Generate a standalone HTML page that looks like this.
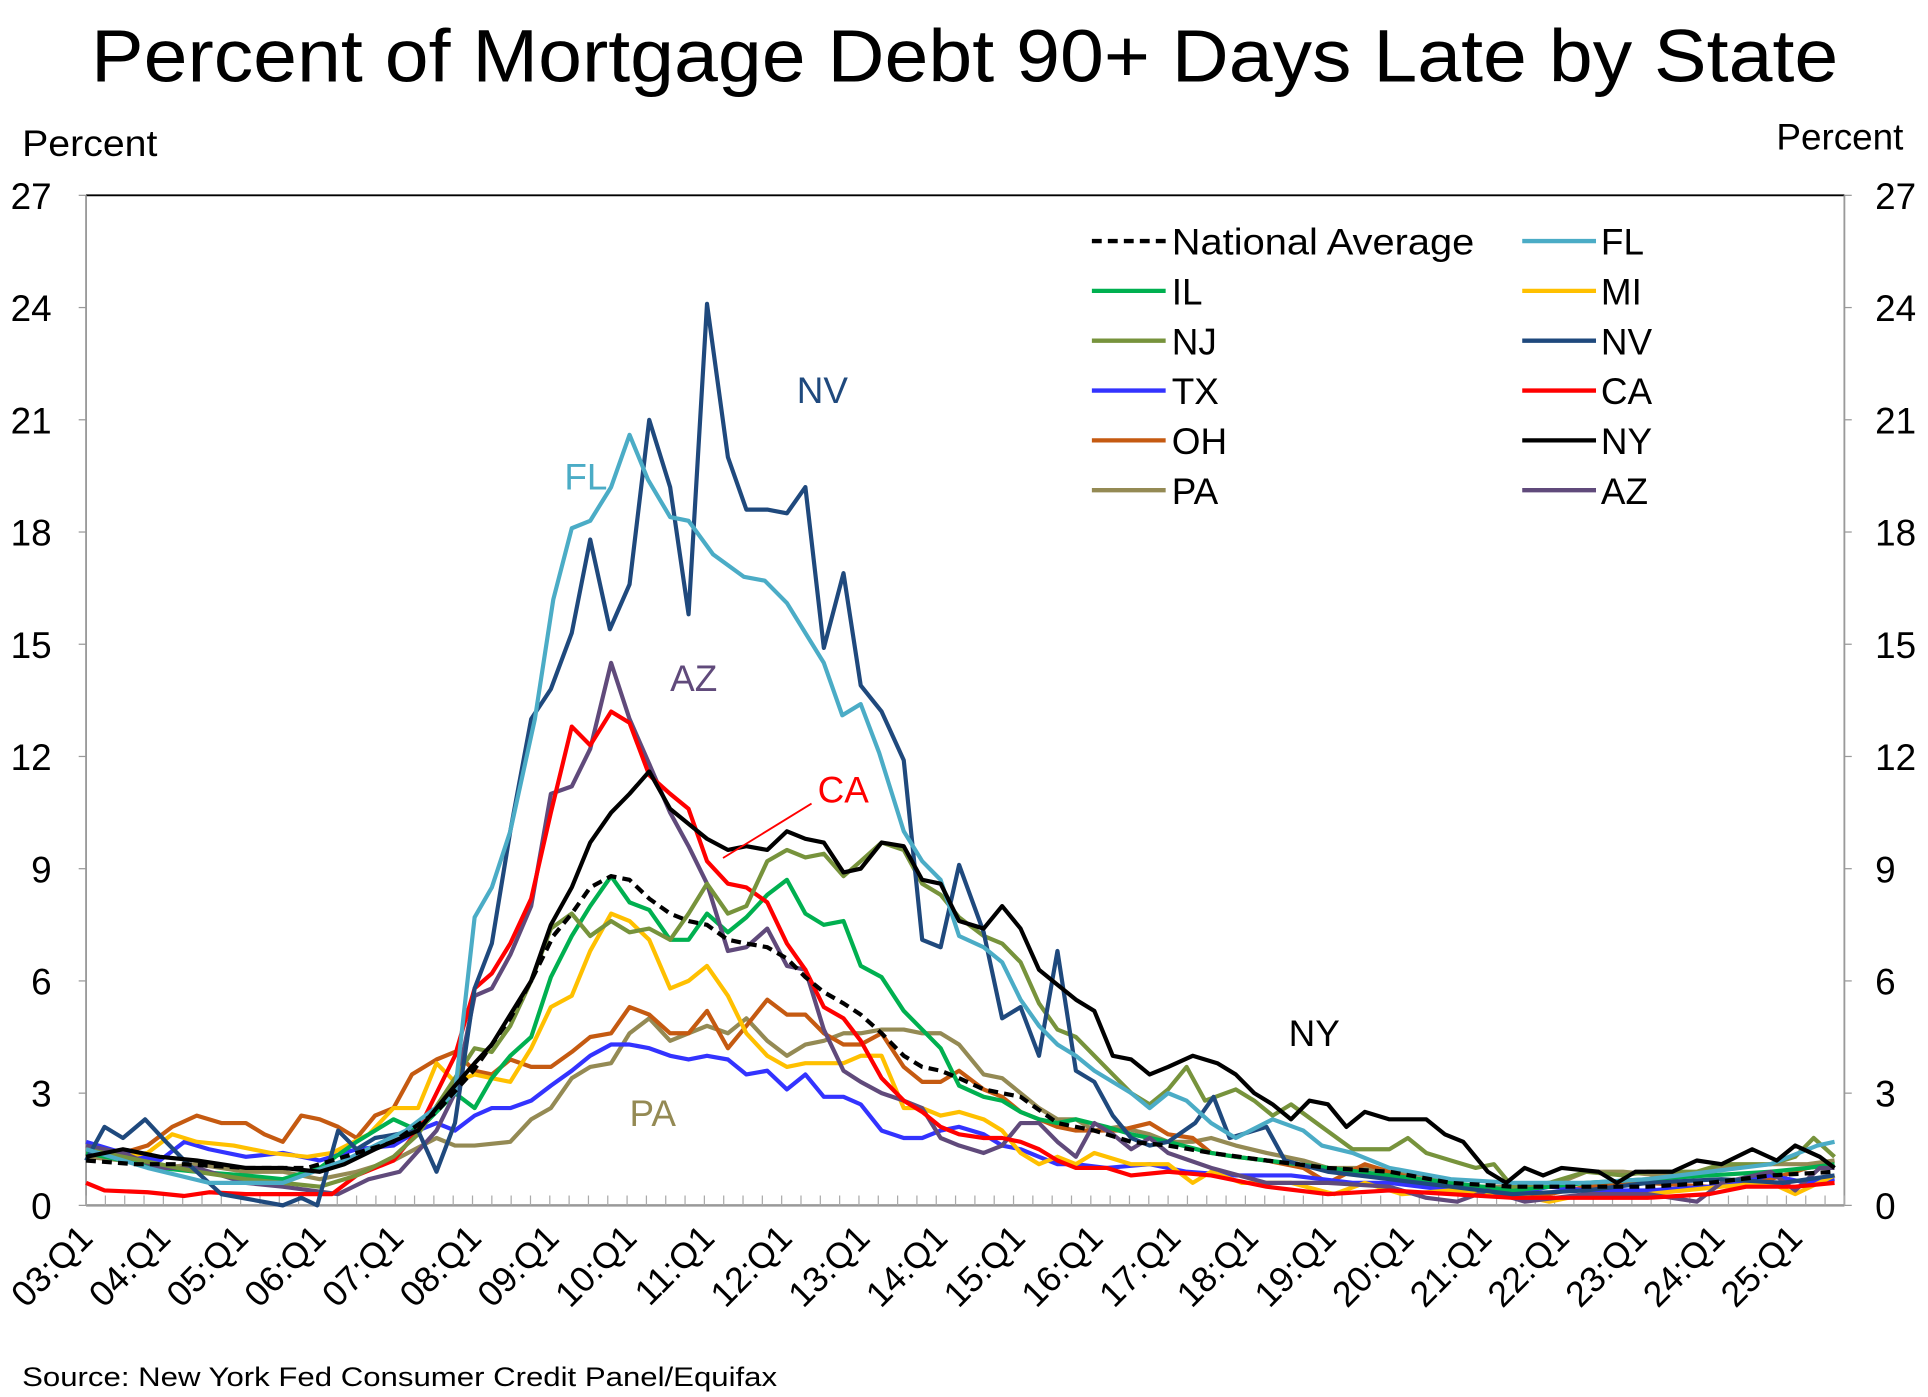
<!DOCTYPE html>
<html><head><meta charset="utf-8"><style>
html,body{margin:0;padding:0;background:#fff;}
svg{display:block;}
text{font-family:"Liberation Sans",Arial,sans-serif;}
</style></head><body>
<svg id="c" width="1928" height="1397" viewBox="0 0 1568 1130" preserveAspectRatio="none" xmlns="http://www.w3.org/2000/svg">
<text x="74" y="66" font-size="60" textLength="1421" lengthAdjust="spacingAndGlyphs">Percent of Mortgage Debt 90+ Days Late by State</text>
<text x="18" y="126" font-size="30" textLength="110" lengthAdjust="spacingAndGlyphs">Percent</text>
<text x="1548" y="121" font-size="30" text-anchor="end">Percent</text>
<g id="axes"></g>
<g id="series" fill="none" stroke-width="3.4" stroke-linejoin="round"></g>
<g id="legend"></g>
<text x="648" y="326" font-size="30" fill="#1f497d">NV</text>
<text x="459" y="396" font-size="30" fill="#4bacc6">FL</text>
<text x="545" y="559" font-size="30" fill="#604a7b">AZ</text>
<text x="665" y="649" font-size="30" fill="#ff0000">CA</text>
<line x1="660" y1="650" x2="588" y2="694" stroke="#ff0000" stroke-width="1.5"/>
<text x="1048" y="846" font-size="30" fill="#000">NY</text>
<text x="512" y="911" font-size="30" fill="#948a54">PA</text>
<text x="18" y="1121" font-size="22" textLength="614" lengthAdjust="spacingAndGlyphs">Source: New York Fed Consumer Credit Panel/Equifax</text>
</svg>
<script>
const NS="http://www.w3.org/2000/svg";
function el(p,t,a,txt){const e=document.createElementNS(NS,t);for(const k in a)e.setAttribute(k,a[k]);if(txt!==undefined)e.textContent=txt;p.appendChild(e);return e;}
const L=70,R=1500,T=158,B=975,U=(B-T)/27;
const Y=v=>B-v*U;
const ax=document.getElementById('axes');
el(ax,'line',{x1:L,y1:T,x2:R,y2:T,stroke:'#000','stroke-width':1.5});
el(ax,'line',{x1:L,y1:T,x2:L,y2:B,stroke:'#999','stroke-width':1.5});
el(ax,'line',{x1:R,y1:T,x2:R,y2:B,stroke:'#999','stroke-width':1.5});
el(ax,'line',{x1:L,y1:B,x2:R,y2:B,stroke:'#999','stroke-width':2});
for(let v=0;v<=27;v+=3){
 el(ax,'text',{x:42,y:Y(v)+11,'font-size':30,'text-anchor':'end'},v);
 el(ax,'text',{x:1525,y:Y(v)+11,'font-size':30,'text-anchor':'start'},v);
 el(ax,'line',{x1:L,y1:Y(v),x2:L-6,y2:Y(v),stroke:'#999'});
 el(ax,'line',{x1:R,y1:Y(v),x2:R+6,y2:Y(v),stroke:'#999'});
}
const qw=(R-L)/91;
for(let i=0;i<=91;i++){el(ax,'line',{x1:L+i*qw,y1:B,x2:L+i*qw,y2:B-8,stroke:'#aaa','stroke-width':1});}
for(let k=0;k<23;k++){
 const yr=(3+k).toString().padStart(2,'0')+':Q1';
 const x=77+63.2*k,y=1003;
 el(ax,'text',{x:x,y:y,'font-size':29,'text-anchor':'end',transform:`rotate(-45 ${x} ${y})`},yr);
}
const S={
NY:['#000',[70,1.3,100,1.5,130,1.3,160,1.2,200,1.0,230,1.0,260,0.9,280,1.1,305,1.5,340,2.0,370,3.2,386,3.8,400,4.3,415,5.1,432,6,448,7.5,465,8.5,480,9.7,497,10.5,512,11,528,11.6,545,10.6,560,10.2,575,9.8,592,9.5,607,9.6,624,9.5,640,10,655,9.8,670,9.7,686,8.9,700,9.0,717,9.7,735,9.6,750,8.7,765,8.6,780,7.6,800,7.4,815,8.0,830,7.4,845,6.3,860,5.9,875,5.5,890,5.2,905,4.0,920,3.9,935,3.5,950,3.7,970,4.0,990,3.8,1005,3.5,1020,3.0,1035,2.7,1050,2.3,1065,2.8,1080,2.7,1095,2.1,1110,2.5,1130,2.3,1160,2.3,1175,1.9,1190,1.7,1210,0.9,1225,0.6,1240,1.0,1255,0.8,1270,1.0,1300,0.9,1315,0.6,1330,0.9,1360,0.9,1380,1.2,1400,1.1,1425,1.5,1445,1.2,1460,1.6,1480,1.3,1492,1.0]],
FL:['#4bacc6',[70,1.5,120,1.0,170,0.6,230,0.6,280,1.2,330,2.0,370,3.0,386,7.7,400,8.5,415,10,435,13,450,16.2,465,18.1,480,18.3,497,19.2,512,20.6,527,19.4,545,18.4,560,18.3,580,17.4,605,16.8,622,16.7,640,16.1,670,14.5,685,13.1,700,13.4,715,12.1,735,10,750,9.2,765,8.7,780,7.2,800,6.9,815,6.5,830,5.5,845,4.8,860,4.3,875,4.0,890,3.6,920,3.0,935,2.6,950,3.0,965,2.8,985,2.2,1005,1.8,1035,2.3,1060,2.0,1075,1.6,1100,1.4,1130,1.0,1180,0.7,1230,0.6,1290,0.6,1340,0.7,1390,0.9,1440,1.1,1478,1.6,1492,1.7]],
NV:['#1f497d',[70,1.2,85,2.1,100,1.8,118,2.3,135,1.7,150,1.2,180,0.3,230,0.0,245,0.2,258,0.0,275,2.0,290,1.5,305,1.8,340,2.0,355,0.9,370,2.2,386,5.8,400,7,415,10,432,13,448,13.8,465,15.3,480,17.8,496,15.4,512,16.6,528,21,545,19.2,560,15.8,575,24.1,592,20,607,18.6,624,18.6,640,18.5,655,19.2,670,14.9,686,16.9,700,13.9,717,13.2,735,11.9,750,7.1,765,6.9,780,9.1,800,7.3,815,5.0,830,5.3,845,4.0,860,6.8,875,3.6,890,3.3,905,2.4,920,1.8,935,1.6,950,1.7,972,2.2,987,2.9,1000,1.8,1030,2.1,1045,1.2,1080,0.9,1130,0.7,1180,0.5,1230,0.3,1290,0.4,1340,0.6,1400,0.7,1450,0.6,1492,0.8]],
NJ:['#77933c',[70,1.5,100,1.3,130,1.1,160,0.9,200,0.7,230,0.6,260,0.5,290,0.8,320,1.3,340,1.9,370,3.4,386,4.2,400,4.1,415,4.8,432,6,448,7.4,465,7.8,480,7.2,497,7.6,512,7.3,528,7.4,545,7.1,560,7.8,575,8.6,592,7.8,607,8.0,624,9.2,640,9.5,655,9.3,670,9.4,686,8.8,700,9.2,717,9.7,735,9.5,750,8.6,765,8.3,780,7.7,800,7.2,815,7.0,830,6.5,845,5.4,860,4.7,875,4.5,890,4.0,905,3.5,920,3.0,935,2.7,950,3.1,965,3.7,980,2.8,1005,3.1,1020,2.8,1035,2.4,1050,2.7,1075,2.1,1100,1.5,1130,1.5,1145,1.8,1160,1.4,1180,1.2,1200,1.0,1215,1.1,1230,0.5,1260,0.6,1290,0.9,1320,0.8,1340,0.9,1380,0.9,1400,1.1,1440,1.1,1460,1.3,1475,1.8,1492,1.3]],
CA:['#ff0000',[70,0.6,85,0.4,120,0.35,150,0.25,170,0.35,200,0.3,230,0.3,270,0.3,290,0.8,320,1.2,340,2.0,355,3.0,370,4.0,386,5.8,400,6.2,415,7.0,432,8.2,448,10.5,465,12.8,480,12.3,497,13.2,512,12.9,528,11.5,545,11.0,560,10.6,575,9.2,592,8.6,607,8.5,624,8.1,640,7.0,655,6.3,670,5.3,686,5.0,700,4.4,717,3.4,735,2.8,750,2.5,765,2.1,780,1.9,800,1.8,815,1.8,830,1.7,845,1.5,860,1.2,875,1.0,900,1.0,920,0.8,950,0.9,985,0.8,1030,0.5,1080,0.3,1130,0.4,1180,0.3,1230,0.2,1290,0.2,1340,0.2,1390,0.3,1420,0.5,1460,0.5,1492,0.6]],
AZ:['#604a7b',[70,1.6,100,1.4,130,1.0,160,1.0,200,0.6,230,0.5,275,0.3,300,0.7,325,0.9,355,2.0,370,3.0,386,5.6,400,5.8,415,6.7,432,8,448,11,465,11.2,480,12.2,497,14.5,512,13,528,11.8,545,10.5,560,9.6,575,8.6,592,6.8,607,6.9,624,7.4,640,6.4,655,6.3,670,4.7,686,3.6,700,3.3,717,3.0,735,2.8,750,2.6,765,1.8,780,1.6,800,1.4,815,1.6,830,2.2,845,2.2,860,1.7,875,1.3,890,2.2,905,1.9,920,1.5,935,1.8,950,1.4,985,1.0,1030,0.6,1080,0.6,1130,0.5,1160,0.2,1185,0.1,1210,0.4,1240,0.1,1290,0.3,1340,0.3,1380,0.1,1400,0.6,1440,0.9,1460,0.4,1480,1.0,1492,1.0]],
IL:['#00b050',[70,1.4,100,1.2,130,1.0,160,0.9,200,0.8,230,0.7,260,1.0,290,1.7,320,2.3,340,2.0,370,3.0,386,2.6,400,3.4,415,4.0,432,4.5,448,6.1,465,7.2,480,8,497,8.8,512,8.1,528,7.9,545,7.1,560,7.1,575,7.8,592,7.3,607,7.7,624,8.3,640,8.7,655,7.8,670,7.5,686,7.6,700,6.4,717,6.1,735,5.2,750,4.7,765,4.2,780,3.2,800,2.9,815,2.8,830,2.5,845,2.3,860,2.2,875,2.3,900,2.1,920,1.9,950,1.7,985,1.4,1005,1.3,1030,1.2,1080,1.0,1130,0.8,1180,0.6,1230,0.4,1290,0.6,1340,0.7,1390,0.8,1440,0.9,1470,1.0,1492,1.1]],
MI:['#ffc000',[70,1.5,100,1.3,120,1.4,140,1.9,160,1.7,190,1.6,220,1.4,250,1.3,270,1.4,300,1.9,320,2.6,340,2.6,355,3.8,370,3.3,386,3.5,400,3.4,415,3.3,432,4.2,448,5.3,465,5.6,480,6.8,497,7.8,512,7.6,528,7.1,545,5.8,560,6.0,575,6.4,592,5.6,607,4.6,624,4.0,640,3.7,655,3.8,670,3.8,686,3.8,700,4.0,717,4.0,735,2.6,750,2.6,765,2.4,780,2.5,800,2.3,815,2.0,830,1.4,845,1.1,860,1.3,875,1.1,890,1.4,920,1.1,950,1.1,970,0.6,985,0.9,1010,0.6,1050,0.6,1085,0.3,1110,0.6,1140,0.3,1180,0.4,1230,0.3,1260,0.1,1290,0.3,1340,0.3,1400,0.5,1440,0.6,1460,0.3,1492,0.8]],
TX:['#3333ff',[70,1.7,100,1.4,130,1.2,150,1.7,170,1.5,200,1.3,230,1.4,260,1.2,290,1.5,320,1.6,340,2.0,355,2.2,370,2.0,386,2.4,400,2.6,415,2.6,432,2.8,448,3.2,465,3.6,480,4.0,497,4.3,512,4.3,528,4.2,545,4.0,560,3.9,575,4.0,592,3.9,607,3.5,624,3.6,640,3.1,655,3.5,670,2.9,686,2.9,700,2.7,717,2.0,735,1.8,750,1.8,765,2.0,780,2.1,800,1.9,815,1.6,830,1.5,845,1.3,860,1.1,875,1.1,900,1.0,935,1.1,965,0.9,1005,0.8,1050,0.8,1100,0.6,1130,0.6,1180,0.4,1230,0.3,1260,0.5,1290,0.4,1340,0.4,1390,0.5,1440,0.8,1470,0.6,1492,0.7]],
OH:['#c55a11',[70,1.4,100,1.4,120,1.6,140,2.1,160,2.4,180,2.2,200,2.2,215,1.9,230,1.7,245,2.4,260,2.3,275,2.1,290,1.8,305,2.4,320,2.6,335,3.5,355,3.9,370,4.1,386,3.6,400,3.5,415,3.9,432,3.7,448,3.7,465,4.1,480,4.5,497,4.6,512,5.3,528,5.1,545,4.6,560,4.6,575,5.2,592,4.2,607,4.8,624,5.5,640,5.1,655,5.1,670,4.6,686,4.3,700,4.3,717,4.6,735,3.7,750,3.3,765,3.3,780,3.6,800,3.1,815,2.9,830,2.5,845,2.3,860,2.1,875,2.0,890,2.0,910,2.0,935,2.2,950,1.9,970,1.8,985,1.4,1005,1.3,1030,1.2,1060,1.0,1080,0.6,1110,1.1,1130,0.9,1160,0.6,1190,0.4,1230,0.3,1260,0.3,1290,0.5,1340,0.6,1390,0.5,1440,0.7,1470,1.0,1492,1.1]],
PA:['#948a54',[70,1.3,100,1.2,130,1.0,160,1.1,200,0.9,230,0.9,260,0.7,290,0.9,320,1.2,355,1.8,370,1.6,386,1.6,415,1.7,432,2.3,448,2.6,465,3.4,480,3.7,497,3.8,512,4.6,528,5.0,545,4.4,560,4.6,575,4.8,592,4.6,607,5.0,624,4.4,640,4.0,655,4.3,670,4.4,686,4.6,700,4.6,717,4.7,735,4.7,750,4.6,765,4.6,780,4.3,800,3.5,815,3.4,830,3.0,845,2.6,860,2.3,875,2.3,890,2.0,910,2.1,935,1.9,950,1.7,970,1.7,985,1.8,1005,1.6,1030,1.4,1060,1.2,1080,1.0,1110,1.0,1130,0.9,1160,0.8,1180,0.6,1200,0.5,1230,0.5,1260,0.5,1290,0.9,1320,0.9,1350,0.8,1380,0.8,1400,1.0,1440,1.1,1470,1.1,1492,1.2]],
NAT:['#000',[70,1.2,110,1.1,150,1.1,200,1.0,250,1.0,280,1.3,320,1.7,355,2.5,385,3.6,415,5.0,432,6.0,450,7.2,465,7.8,480,8.5,497,8.8,512,8.7,528,8.2,545,7.8,560,7.6,575,7.5,592,7.1,607,7.0,624,6.9,640,6.6,655,6.1,670,5.7,686,5.4,700,5.1,717,4.6,735,4.0,750,3.7,765,3.6,780,3.4,800,3.1,830,2.9,860,2.2,890,2.0,920,1.7,950,1.6,985,1.4,1030,1.2,1080,1.0,1130,0.9,1180,0.6,1230,0.5,1290,0.5,1340,0.5,1390,0.6,1440,0.8,1492,0.9],'8 5']
};
const g=document.getElementById('series');
const order=['PA','OH','TX','MI','IL','AZ','CA','NJ','NV','FL','NY','NAT'];
for(const k of order){const [c,d,dash]=S[k];let pts=[];for(let i=0;i<d.length;i+=2)pts.push(d[i]+','+Y(d[i+1]).toFixed(1));
 const a={points:pts.join(' '),stroke:c};if(dash)a['stroke-dasharray']=dash;el(g,'polyline',a);}
const lg=document.getElementById('legend');
const LL=[['National Average','#000',1],['IL','#00b050'],['NJ','#77933c'],['TX','#3333ff'],['OH','#c55a11'],['PA','#948a54']];
const LR=[['FL','#4bacc6'],['MI','#ffc000'],['NV','#1f497d'],['CA','#ff0000'],['NY','#000'],['AZ','#604a7b']];
for(let i=0;i<6;i++){const y=195+i*40.3;
 const a={x1:888,y1:y,x2:948,y2:y,stroke:LL[i][1],'stroke-width':3.5};if(LL[i][2])a['stroke-dasharray']='8 5';el(lg,'line',a);
 const t=el(lg,'text',{x:953,y:y+11,'font-size':30},LL[i][0]);
 if(i==0){t.setAttribute('textLength','246');t.setAttribute('lengthAdjust','spacingAndGlyphs');}
 el(lg,'line',{x1:1238,y1:y,x2:1298,y2:y,stroke:LR[i][1],'stroke-width':3.5});
 el(lg,'text',{x:1302,y:y+11,'font-size':30},LR[i][0]);
}
</script>
</body></html>
